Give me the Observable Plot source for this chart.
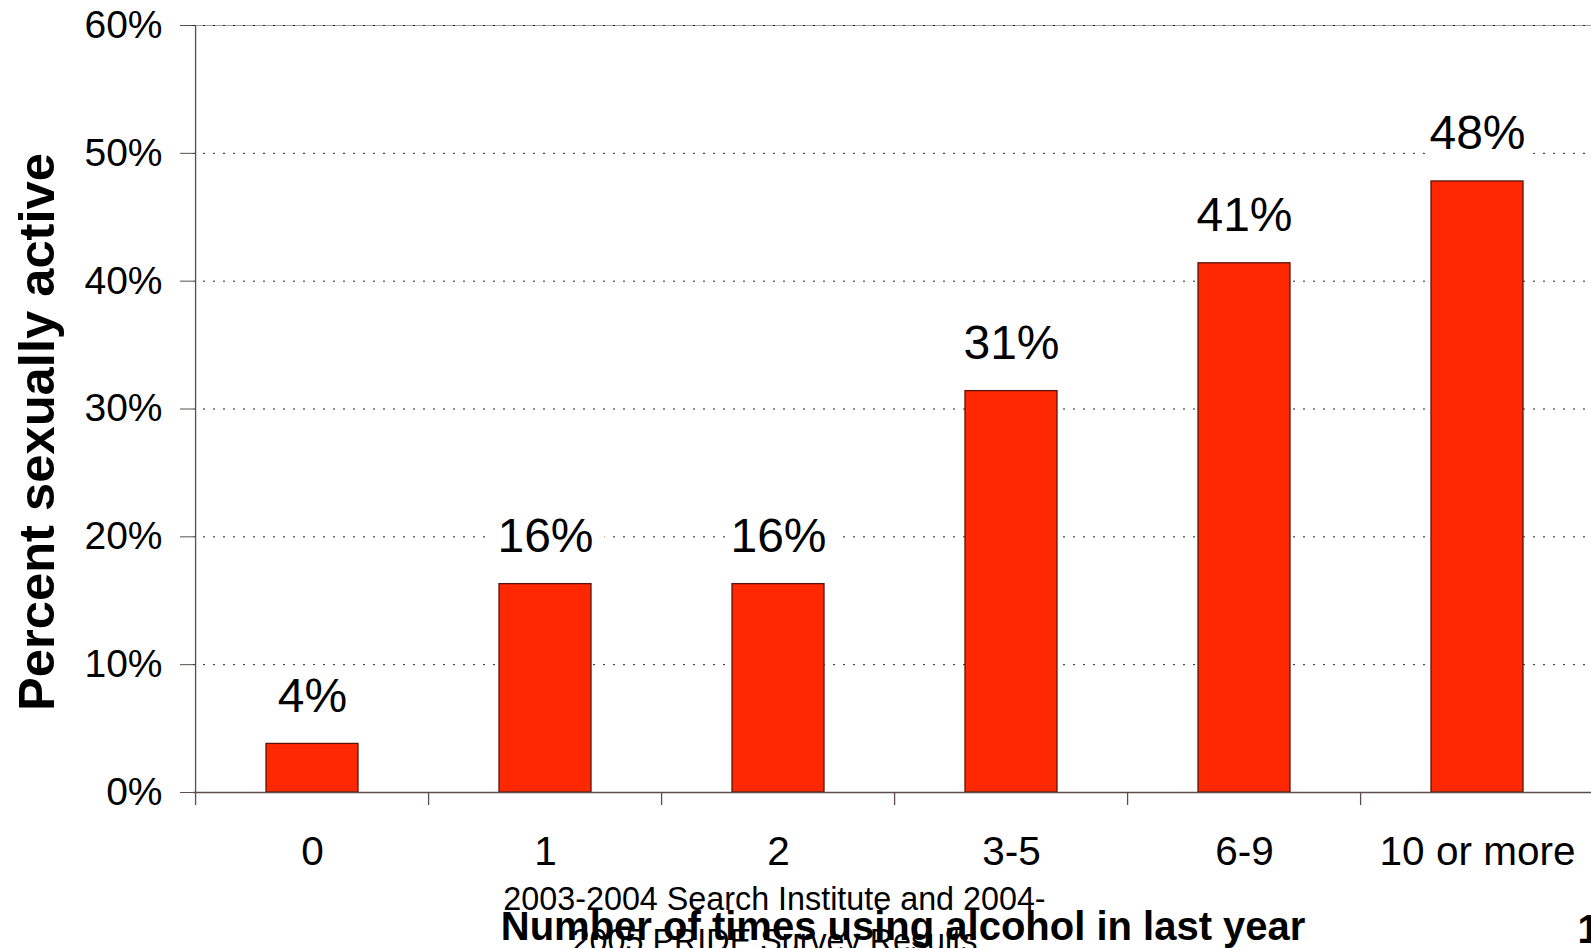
<!DOCTYPE html>
<html><head><meta charset="utf-8">
<script src="https://cdn.jsdelivr.net/npm/d3@7"></script>
<script src="https://cdn.jsdelivr.net/npm/@observablehq/plot@0.6"></script>
<style>
html,body{margin:0;padding:0;background:#fff;overflow:hidden;}
#chart{position:relative;width:1591px;height:948px;overflow:hidden;}
</style></head><body><div id="chart"></div>
<script>
const categories = ["0", "1", "2", "3-5", "6-9", "10 or more"];
const values = [3.8, 16.3, 16.3, 31.4, 41.4, 47.8];
const valueLabels = ["4%", "16%", "16%", "31%", "41%", "48%"];
const yTicks = [0, 10, 20, 30, 40, 50, 60];
const gridTicks = [10, 20, 30, 40, 50, 60];
const yTitle = ["Percent sexually active"];
const xTitle = ["Number of times using alcohol in last year"];
const sourceText = ["2003-2004 Search Institute and 2004-\n2005 PRIDE Survey Results"];
const pageNumber = ["1"];

const data = categories.map((c, i) => ({category: c, value: values[i], label: valueLabels[i]}));

const W = 1591, H = 948, plotLeft = 193, plotRight = 1596, plotTop = 25, plotBase = 792;
const step = (plotRight - plotLeft) / categories.length;
const font = "'Liberation Sans', Arial, Helvetica, sans-serif";
const axisColor = "#5e4c4c";

const chart = Plot.plot({
  width: W, height: H,
  marginLeft: plotLeft, marginRight: 0, marginTop: plotTop, marginBottom: H - plotBase,
  style: {fontFamily: font, background: "#fff", color: "#000", overflow: "hidden"},
  x: {domain: categories, range: [plotLeft, plotRight], paddingInner: 0.605, paddingOuter: 0.3025},
  y: {domain: [0, 60], range: [plotBase, plotTop]},
  marks: [
    Plot.ruleY([60], {stroke: "#a0a0a0", strokeWidth: 1}),
    Plot.ruleY(gridTicks, {stroke: "#222", strokeWidth: 1, strokeDasharray: "2,8"}),
    Plot.barY(data, {x: "category", y: "value", fill: "#ff2800", stroke: "#5a150a", strokeWidth: 1.3}),
    Plot.text(data, {x: "category", y: "value", text: "label", dy: -32, lineAnchor: "bottom", fontSize: 48, fill: "#000", stroke: "#fff", strokeWidth: 26}),
    Plot.ruleY([0], {stroke: axisColor, strokeWidth: 1.3}),
    Plot.ruleX([categories[0]], {x: d => d, y1: 60, y2: 0, dx: -step / 2, insetBottom: -13, stroke: axisColor, strokeWidth: 1.3}),
    Plot.ruleX(categories.slice(1), {x: d => d, y1: 0, y2: 0, dx: -step / 2, insetBottom: -13, stroke: axisColor, strokeWidth: 1.3}),
    Plot.axisY(yTicks, {tickSize: 13, tickPadding: 18, tickFormat: d => d + "%", fontSize: 39, stroke: axisColor, fill: "#000", label: null}),
    Plot.axisX({tickSize: 0, tickPadding: 44, fontSize: 40.5, fill: "#000", label: null}),
    Plot.text(yTitle, {frameAnchor: "left", textAnchor: "middle", lineAnchor: "middle", rotate: -90, dx: -155.5, dy: 23, fontSize: 50.7, fontWeight: "bold", fill: "#000"}),
    Plot.text(xTitle, {frameAnchor: "bottom", textAnchor: "middle", lineAnchor: "bottom", dx: 10.6, dy: 147, fontSize: 40, fontWeight: "bold", fill: "#000"}),
    Plot.text(sourceText, {frameAnchor: "bottom", textAnchor: "middle", lineAnchor: "top", dx: -118, dy: 88, lineHeight: 1.29, fontSize: 32.3, fill: "#000"}),
    Plot.text(pageNumber, {frameAnchor: "bottom-right", dx: -14, dy: 150, lineAnchor: "bottom", textAnchor: "start", fontSize: 40, fontWeight: "bold", fill: "#000"})
  ]
});
document.getElementById("chart").appendChild(chart);
</script>
</body></html>
